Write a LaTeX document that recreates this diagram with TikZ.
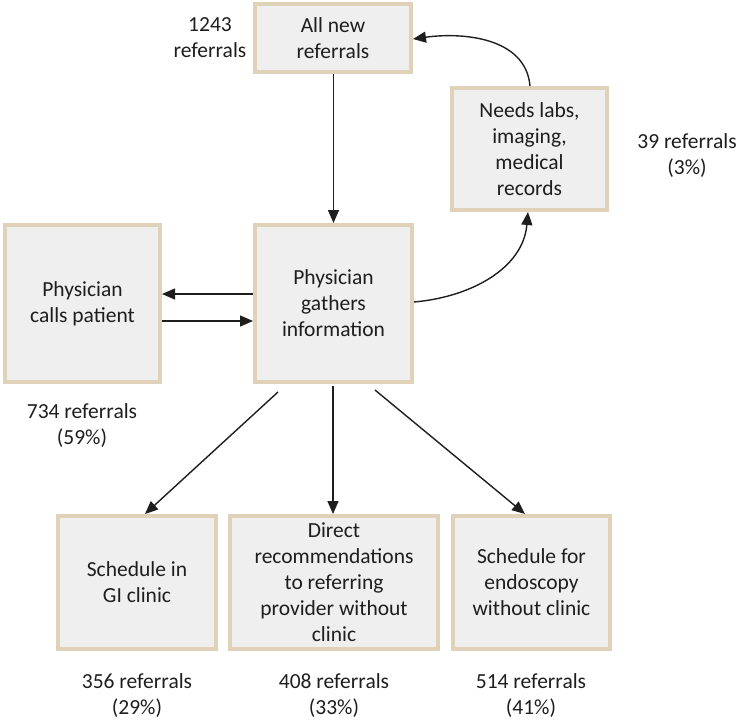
\documentclass[tikz,border=0pt]{standalone}
\usepackage{fontspec}
\setmainfont{Carlito}
\usetikzlibrary{arrows.meta}
\definecolor{boxfill}{HTML}{EFEFEF}
\definecolor{boxedge}{HTML}{E0D2B8}
\definecolor{ink}{HTML}{1E1E1E}
\begin{document}
\begin{tikzpicture}[x=1pt,y=-1pt,
  font=\fontsize{21.5}{26}\selectfont,
  box/.style={draw=boxedge,line width=4pt,fill=boxfill,text=ink,align=center,inner sep=0pt},
  lbl/.style={text=ink,align=center,inner sep=0pt},
  conn/.style={draw=ink,line width=1.4pt,-{Triangle[length=13pt,width=11pt]}}]
\useasboundingbox (0,0) rectangle (742,724);
\node[box,minimum width=156pt,minimum height=68pt] (all) at (333,38) {All new\\referrals};
\node[box,minimum width=155pt,minimum height=122pt] (labs) at (529.5,149) {Needs labs,\\imaging,\\medical\\records};
\node[box,minimum width=155pt,minimum height=157pt] (calls) at (82.5,303.5) {Physician\\calls patient};
\node[box,minimum width=157pt,minimum height=157pt] (gath) at (333.5,303.5) {Physician\\gathers\\information};
\node[box,minimum width=158pt,minimum height=133pt] (gi) at (137,582.5) {Schedule in\\GI clinic};
\node[box,minimum width=208pt,minimum height=133pt] (dir) at (334,582.5) {Direct\\recommendations\\to referring\\provider without\\clinic};
\node[box,minimum width=157pt,minimum height=133pt] (endo) at (531.5,582.5) {Schedule for\\endoscopy\\without clinic};
\node[lbl] (l1243) at (210,38) {1243\\referrals};
\node[lbl] (l39) at (687,156) {39 referrals\\(3\%)};
\node[lbl] (l734) at (82,426) {734 referrals\\(59\%)};
\node[lbl] (l356) at (137,696) {356 referrals\\(29\%)};
\node[lbl] (l408) at (334,696) {408 referrals\\(33\%)};
\node[lbl] (l514) at (531,696) {514 referrals\\(41\%)};
\coordinate (g1) at (278,392);
\coordinate (g3) at (375,390);
\draw[conn] (all.south -| gath.north) -- (gath.north);
\draw[conn] (gath.west |- 0,294) -- (calls.east |- 0,294);
\draw[conn] (calls.east |- 0,321) -- (gath.west |- 0,321);
\draw[conn] (gath.east |- 0,302) to[out=5,in=-95] (labs.south -| 528,0);
\draw[conn] (labs.north -| 530,0) to[out=95,in=8] (all.east |- 0,39);
\draw[conn] (g1) -- (gi.north -| 145,0);
\draw[conn] (gath.south -| 333,0) ++(0,2) -- (dir.north -| 333,0);
\draw[conn] (g3) -- (endo.north -| 525,0);
\end{tikzpicture}
\end{document}
